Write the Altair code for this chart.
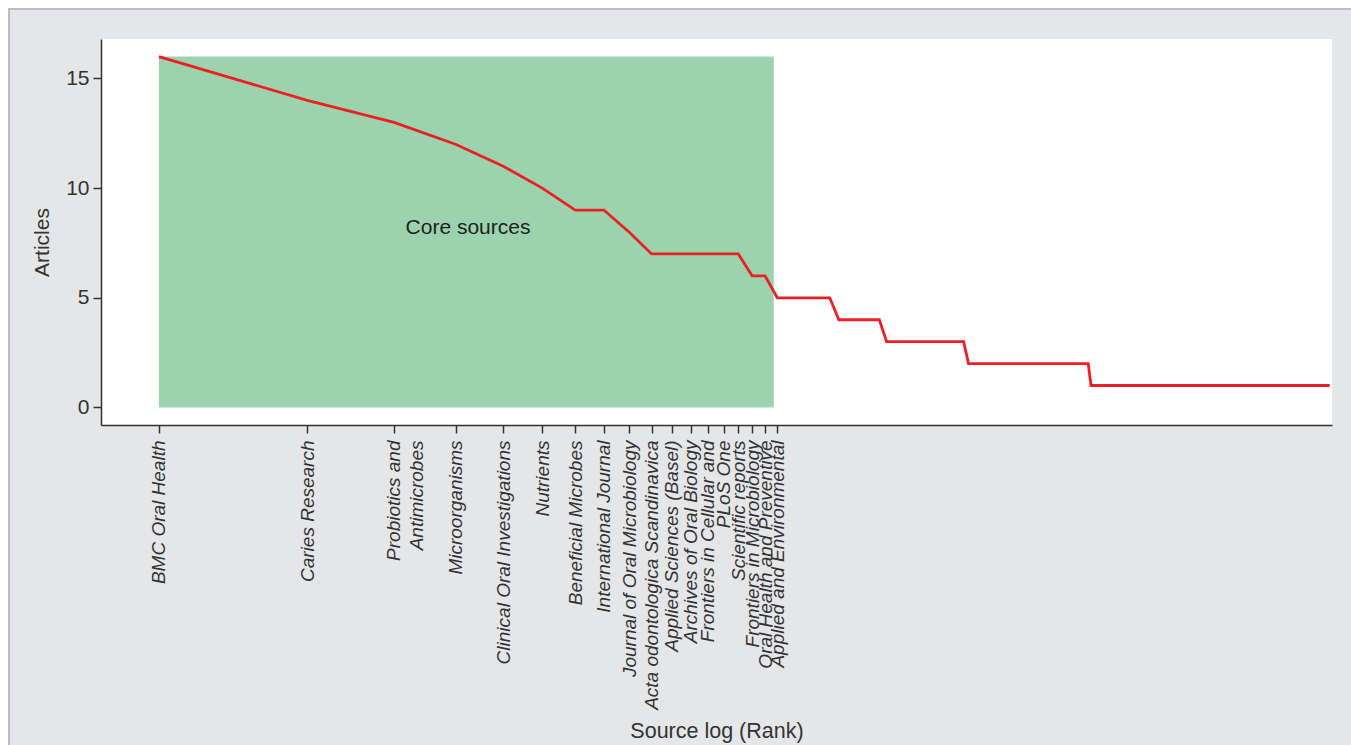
import altair as alt
import pandas as pd

# ---- data ----
# run-length description of the source frequency distribution (rank order)
articles_levels = [16, 14, 13, 12, 11, 10, 9, 8, 7, 6, 5, 4, 3, 2, 1]
sources_per_level = [1, 1, 1, 1, 1, 1, 2, 1, 6, 2, 6, 6, 14, 34, 161]

tick_names = [
    "BMC Oral Health",
    "Caries Research",
    "Probiotics and|Antimicrobes",
    "Microorganisms",
    "Clinical Oral Investigations",
    "Nutrients",
    "Beneficial Microbes",
    "International Journal",
    "Journal of Oral Microbiology",
    "Acta odontologica Scandinavica",
    "Applied Sciences (Basel)",
    "Archives of Oral Biology",
    "Frontiers in Cellular and",
    "PLoS One",
    "Scientific reports",
    "Frontiers in Microbiology",
    "Oral Health and Preventive",
    "Applied and Environmental",
]
tick_ranks = list(range(1, len(tick_names) + 1))

core_zone = {"rank_start": 1, "rank_end": 17.7, "low": 0, "high": 16}
core_label = {"rank": 4.24, "articles": 8.2, "text": "Core sources"}

# expand run-length data to one row per ranked source
rows = []
rank = 1
for lvl, n in zip(articles_levels, sources_per_level):
    for _ in range(n):
        rows.append({"rank": rank, "articles": lvl})
        rank += 1
line_df = pd.DataFrame(rows)

FONT = "Liberation Sans"
TXT = "#333333"

xscale = alt.Scale(type="log", domain=[0.7627, 240.6], nice=False)
yscale = alt.Scale(domain=[-0.8, 16.8], nice=False, zero=False)

names_js = "[" + ",".join("'" + n.replace("'", "\\'") + "'" for n in tick_names) + "]"

x_axis = alt.Axis(
    values=tick_ranks,
    labelExpr=f"split({names_js}[datum.value - 1], '|')",
    labelAngle=270,
    labelFontStyle="italic",
    labelFontSize=19,
    labelFont=FONT,
    labelColor=TXT,
    labelPadding=7,
    labelOverlap=False,
    labelBound=False,
    labelFlush=False,
    labelLimit=0,
    labelLineHeight=23,
    tickSize=8,
    tickWidth=1.5,
    tickColor=TXT,
    domainColor=TXT,
    domainWidth=1.5,
    grid=False,
    title="Source log (Rank)",
    titleFont=FONT,
    titleFontSize=21.5,
    titleFontWeight="normal",
    titleColor=TXT,
    titleBaseline="middle",
    titleY=306,
    zindex=1,
)

y_axis = alt.Axis(
    values=[0, 5, 10, 15],
    labelFontSize=21,
    labelFont=FONT,
    labelColor=TXT,
    labelPadding=4,
    tickSize=8,
    tickWidth=1.5,
    tickColor=TXT,
    domainColor=TXT,
    domainWidth=1.5,
    grid=False,
    title="Articles",
    titleFont=FONT,
    titleFontSize=21,
    titleFontWeight="normal",
    titleColor=TXT,
    titleAngle=270,
    titleAlign="center",
    titleBaseline="middle",
    titleX=-59,
    titleY=203,
    zindex=1,
)

one = alt.Data(values=[{}])

frame = alt.Chart(one).mark_rect(
    fill="#e5e6e8", stroke="#bdbdc1", strokeWidth=2
).encode(
    x=alt.value(-92), x2=alt.value(1300), y=alt.value(-30), y2=alt.value(760)
)

panel = alt.Chart(one).mark_rect(fill="white").encode(
    x=alt.value(0), x2=alt.value(1231), y=alt.value(0), y2=alt.value(386)
)

core_df = pd.DataFrame([core_zone])
core = alt.Chart(core_df).mark_rect(color="#9bd3ae").encode(
    x=alt.X("rank_start:Q", scale=xscale, axis=x_axis),
    x2="rank_end:Q",
    y=alt.Y("low:Q", scale=yscale, axis=y_axis),
    y2="high:Q",
)

line = alt.Chart(line_df).mark_line(color="#ec2024", strokeWidth=2.8).encode(
    x=alt.X("rank:Q", scale=xscale, axis=x_axis),
    y=alt.Y("articles:Q", scale=yscale, axis=y_axis),
)

label = alt.Chart(pd.DataFrame([core_label])).mark_text(
    font=FONT, fontSize=21, color="#222222", align="center", baseline="middle"
).encode(
    x=alt.X("rank:Q", scale=xscale, axis=x_axis),
    y=alt.Y("articles:Q", scale=yscale, axis=y_axis),
    text="text:N",
)

chart = alt.layer(frame, panel, core, line, label).properties(
    width=1231,
    height=386,
    autosize=alt.AutoSizeParams(type="none"),
    padding={"left": 101, "top": 39, "right": 19, "bottom": 320},
    background="white",
).configure_view(stroke=None)

chart.save("out.html", embed_options={"renderer": "svg", "actions": False})
